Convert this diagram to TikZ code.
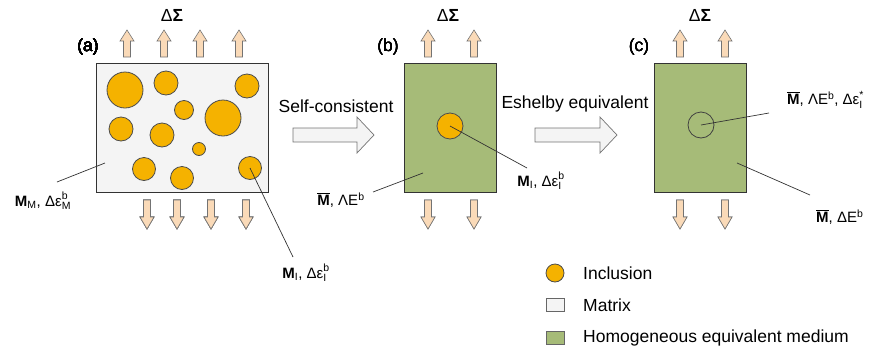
\documentclass[tikz,border=0pt]{standalone}
\usepackage{amsmath}
\usepackage{fontspec}
\setmainfont{Liberation Sans}
\usetikzlibrary{calc}
\definecolor{inclfill}{RGB}{245,178,0}
\definecolor{arrowfill}{RGB}{250,218,184}
\definecolor{hemfill}{RGB}{166,187,120}
\definecolor{matfill}{RGB}{244,244,244}
\newcommand{\stressup}[1]{%
  \filldraw[stressarr] (#1-3.5,57) -- (#1-3.5,41) -- (#1-7,41) -- (#1,30) -- (#1+7,41) -- (#1+3.5,41) -- (#1+3.5,57) -- cycle;%
}
\newcommand{\stressdown}[1]{%
  \filldraw[stressarr] (#1-3.5,200) -- (#1-3.5,217) -- (#1-7,217) -- (#1,229) -- (#1+7,217) -- (#1+3.5,217) -- (#1+3.5,200) -- cycle;%
}
\newcommand{\bigarrow}[2]{%
  \filldraw[bigarr] (#1,128) -- (#2-17,128) -- (#2-17,117) -- (#2,135) -- (#2-17,153) -- (#2-17,142) -- (#1,142) -- cycle;%
}
\newcommand{\dEps}[2]{$\text{Δε}^{\text{#1}}_{\text{#2}}$}
\newcommand{\Mbar}{$\overline{\text{\textbf{M}}}$}

\begin{document}
\begin{tikzpicture}[x=1pt,y=-1pt,
  incl/.style={circle,draw=black!70,fill=inclfill,inner sep=0pt,line width=0.8pt},
  panel/.style={draw=black!80,line width=1pt,minimum width=#1,minimum height=129pt,inner sep=0pt},
  stressarr/.style={draw=black!55,fill=arrowfill,line width=0.6pt},
  bigarr/.style={draw=black!55,fill=matfill,line width=0.7pt},
  leader/.style={draw=black!80,line width=0.7pt},
  lbl/.style={font=\fontsize{15}{17}\selectfont,inner sep=1pt},
  txt/.style={font=\fontsize{17.5}{20}\selectfont,inner sep=1pt}]
  \useasboundingbox (0,0) rectangle (881,354);

  % (a) matrix with inclusions
  \node[panel=172pt,fill=matfill] (matA) at (182,127.5) {};
  \foreach \cx/\cy/\d [count=\k] in {125/90/36,166/83/24,247/86/24,184/110/19,223/118/36,121/129/24,
      162/135/24,199/149/13,144/169/23,182/178/23,250/168/23}
    \node[incl,minimum size=\d pt] (incA\k) at (\cx,\cy) {};
  \foreach \x in {127,164,200,239} \stressup{\x}
  \foreach \x in {147,177,211,246} \stressdown{\x}
  \node[txt] (labA) at (88,47) {(a)};
  \node[txt] (sigA) at (172,15) {Δ\textbf{Σ}};
  \node[lbl] (lblMM) at (43,201) {\textbf{M}\textsubscript{M}, \dEps{b}{M}};
  \coordinate (mA) at (105,163);
  \coordinate (mAend) at (57,182);
  \draw[leader] (mA) -- (mAend);
  \node[lbl] (lblIA) at (306,273) {\textbf{M}\textsubscript{I}, \dEps{b}{I}};
  \coordinate (iAend) at (293,257);
  \draw[leader] (incA11.center) -- (iAend);

  % self-consistent step
  \bigarrow{293}{374}
  \node[txt] (selfc) at (336,106) {Self-consistent};

  % (b) homogeneous medium with one inclusion
  \node[panel=92pt,fill=hemfill] (hemB) at (450,127.5) {};
  \node[incl,minimum size=26pt] (incB) at (450,126) {};
  \foreach \x in {428,474} \stressup{\x}
  \foreach \x in {428,474} \stressdown{\x}
  \node[txt] (labB) at (388,47) {(b)};
  \node[txt] (sigB) at (448,15) {Δ\textbf{Σ}};
  \node[lbl] (lblIB) at (541,181) {\textbf{M}\textsubscript{I}, \dEps{b}{I}};
  \coordinate (iBend) at (527,168);
  \draw[leader] (incB.center) -- (iBend);
  \node[lbl] (lblMB) at (341,200) {\Mbar, ΛE\textsuperscript{b}};
  \coordinate (mB) at (423,173);
  \coordinate (mBend) at (373,192);
  \draw[leader] (mB) -- (mBend);

  % Eshelby equivalent step
  \bigarrow{535}{617}
  \node[txt] (eshel) at (575,104) {Eshelby equivalent};

  % (c) equivalent inclusion
  \node[panel=92pt,fill=hemfill] (hemC) at (700,127.5) {};
  \node[circle,draw=black!75,line width=0.8pt,minimum size=26pt,inner sep=0pt] (eqC) at (701,125) {};
  \foreach \x in {680,725} \stressup{\x}
  \foreach \x in {680,725} \stressdown{\x}
  \node[txt] (labC) at (639,47) {(c)};
  \node[txt] (sigC) at (700,15) {Δ\textbf{Σ}};
  \node[lbl,anchor=west] (lblC1) at (786,100) {\Mbar, ΛE\textsuperscript{b}, \dEps{*}{I}};
  \coordinate (cEnd) at (769,113);
  \draw[leader] (eqC.center) -- (cEnd);
  \node[lbl,anchor=west] (lblC2) at (815,217) {\Mbar, ΔE\textsuperscript{b}};
  \coordinate (mC) at (737,163);
  \coordinate (mCend) at (810,195);
  \draw[leader] (mC) -- (mCend);

  % legend
  \node[incl,minimum size=18pt] (legIncl) at (555,273) {};
  \node[draw=black!60,fill=matfill,line width=0.8pt,minimum width=18pt,minimum height=13pt,inner sep=0pt] (legMat) at (555,305) {};
  \node[draw=black!60,fill=hemfill,line width=0.8pt,minimum width=18pt,minimum height=13pt,inner sep=0pt] (legHem) at (555,338) {};
  \node[txt,anchor=west] (legT1) at (582,273) {Inclusion};
  \node[txt,anchor=west] (legT2) at (582,305) {Matrix};
  \node[txt,anchor=west] (legT3) at (582,338) {Homogeneous equivalent medium};
\end{tikzpicture}
\end{document}
